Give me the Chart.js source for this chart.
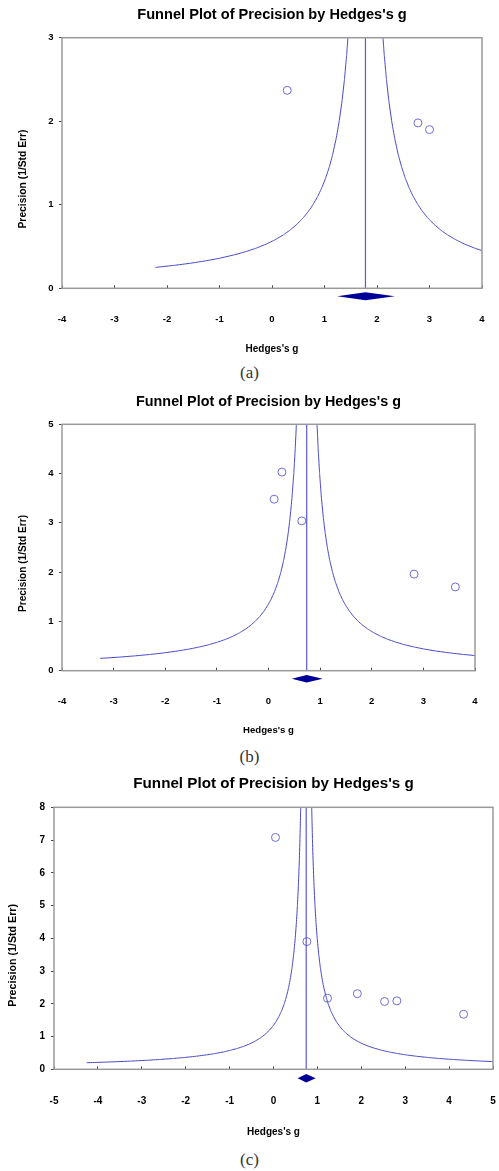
<!DOCTYPE html>
<html>
<head>
<meta charset="utf-8">
<script src="https://cdn.jsdelivr.net/npm/chart.js@4.4.1/dist/chart.umd.min.js"></script>
<style>
html,body{margin:0;padding:0;background:#fff;}
body{width:499px;height:1171px;position:relative;overflow:hidden;}
.panel{position:absolute;left:0;width:499px;}
.cap{position:absolute;left:0;width:499px;text-align:center;font-family:"Liberation Serif","Times New Roman",serif;font-size:17px;line-height:20px;color:#333;}
</style>
</head>
<body>
<div class="panel" style="top:0;height:362px"><canvas id="chartA"></canvas></div>
<div class="cap" style="top:363px">(a)</div>
<div class="panel" style="top:385px;height:362px"><canvas id="chartB"></canvas></div>
<div class="cap" style="top:747px">(b)</div>
<div class="panel" style="top:770px;height:380px"><canvas id="chartC"></canvas></div>
<div class="cap" style="top:1150px">(c)</div>
<script>
// funnel limits: summary +/- FUNNEL_Z / precision
const FUNNEL_Z = 1;
const FUNNEL_PRECISION = [0.2,0.225,0.25,0.275,0.3,0.33,0.36,0.4,0.44,0.48,0.53,0.58,0.64,0.7,0.77,0.85,0.93,1,1.1,1.2,1.32,1.45,1.6,1.8,2,2.25,2.5,2.8,3.1,3.5,4,4.5,5,5.6,6.3,7,8,9,10,12,15];

// (a)
const A_G = [0.29, 2.78, 3.00];
const A_PREC = [2.37, 1.98, 1.90];
const A_SUMMARY = [1.24, 1.78, 2.34]; // lower, estimate, upper
const A_X_RANGE = [-4, 4];
const A_Y_RANGE = [0, 3];
const A_FUNNEL_FLOOR = 0.25;

// (b)
const B_G = [0.26, 0.11, 0.645, 2.82, 3.62];
const B_PREC = [4.03, 3.48, 3.04, 1.96, 1.70];
const B_SUMMARY = [0.45, 0.74, 1.05];
const B_X_RANGE = [-4, 4];
const B_Y_RANGE = [0, 5];
const B_FUNNEL_FLOOR = 0.25;

// (c)
const C_G = [0.045, 0.76, 1.23, 1.91, 2.53, 2.81, 4.33];
const C_PREC = [7.08, 3.90, 2.17, 2.31, 2.07, 2.09, 1.68];
const C_SUMMARY = [0.55, 0.745, 0.96];
const C_X_RANGE = [-5, 5];
const C_Y_RANGE = [0, 8];
const C_FUNNEL_FLOOR = 0.2;

const TITLE = "Funnel Plot of Precision by Hedges's g";
const X_TITLE = "Hedges's g";
const Y_TITLE = "Precision (1/Std Err)";
const FONT = "'Liberation Sans', Arial, sans-serif";
const FUNNEL_COLOR = '#4646c4';
const MEAN_COLOR = '#5a5ad0';
const POINT_COLOR = '#6c6cd8';
const DIAMOND_COLOR = '#000099';

Chart.defaults.color = '#000';

function makePanel(id, d, L) {
  const mean = d.summary[1];
  const band = FUNNEL_PRECISION.filter(p => p >= d.floor);
  const left = band.map(p => ({x: mean - FUNNEL_Z / p, y: p}));
  const right = band.map(p => ({x: mean + FUNNEL_Z / p, y: p}));
  const pts = d.g.map((g, i) => ({x: g, y: d.prec[i]}));
  const lhT = L.titleSize * 1.2, lhX = L.xTitleSize * 1.2, lhTick = L.tickSize * 1.2;

  const extras = {
    id: 'funnelExtras',
    afterDatasetsDraw(chart) {
      const {ctx, chartArea: a, scales: {x}} = chart;
      ctx.save();
      // summary diamond under the axis
      const y0 = a.bottom + L.diamondDy;
      ctx.fillStyle = DIAMOND_COLOR;
      ctx.beginPath();
      ctx.moveTo(x.getPixelForValue(d.summary[0]), y0);
      ctx.lineTo(x.getPixelForValue(d.summary[1]), y0 - L.diamondH);
      ctx.lineTo(x.getPixelForValue(d.summary[2]), y0);
      ctx.lineTo(x.getPixelForValue(d.summary[1]), y0 + L.diamondH);
      ctx.closePath();
      ctx.fill();
      // frame
      ctx.strokeStyle = '#9a9a9a';
      ctx.lineWidth = 1.5;
      ctx.strokeRect(a.left, a.top, a.right - a.left, a.bottom - a.top);
      // y title (sits a bit lower than the plot centre)
      ctx.translate(L.yTitleX, (a.top + a.bottom) / 2 + L.yTitleDy);
      ctx.rotate(-Math.PI / 2);
      ctx.font = 'bold ' + L.yTitleSize + 'px ' + FONT;
      ctx.fillStyle = '#000';
      ctx.textAlign = 'center';
      ctx.textBaseline = 'middle';
      ctx.fillText(Y_TITLE, 0, 0);
      ctx.restore();
    }
  };

  // tiny tension so the curve is drawn point to point (no fast-path jogs)
  const curve = {showLine: true, borderColor: FUNNEL_COLOR, borderWidth: 1, pointRadius: 0, pointHoverRadius: 0, tension: 0.001};

  return new Chart(document.getElementById(id), {
    type: 'scatter',
    data: { datasets: [
      Object.assign({data: left}, curve),
      Object.assign({data: right}, curve),
      {data: [{x: mean, y: d.yRange[0]}, {x: mean, y: d.yRange[1]}], showLine: true, borderColor: MEAN_COLOR, borderWidth: 1.2, pointRadius: 0, pointHoverRadius: 0},
      {data: pts, pointRadius: 4, pointHoverRadius: 4, borderColor: POINT_COLOR, backgroundColor: 'rgba(0,0,0,0)', borderWidth: 1}
    ]},
    options: {
      responsive: true, maintainAspectRatio: false, animation: false,
      layout: { padding: {left: 0, top: 0, right: 499 - L.right, bottom: L.h - (L.xTitleY + lhX / 2)} },
      plugins: {
        legend: {display: false},
        tooltip: {enabled: false},
        title: {display: true, text: TITLE, fullSize: false, color: '#000',
          font: {family: FONT, size: L.titleSize, weight: 'bold'},
          padding: {top: L.titleY - lhT / 2, bottom: L.top - L.titleY - lhT / 2}}
      },
      scales: {
        x: {
          type: 'linear', min: d.xRange[0], max: d.xRange[1],
          afterFit: s => {
            s.height = L.xTitleY + lhX / 2 - L.bottom;
            // big label gap should not eat into the plot width
            s.paddingLeft = 4;
            s.paddingRight = 4;
          },
          ticks: {stepSize: 1, color: '#000', padding: L.xLabelY - L.bottom + 3 - lhTick / 2,
            font: {family: FONT, size: L.tickSize, weight: 'bold'}},
          grid: {display: true, drawOnChartArea: false, drawTicks: true, tickLength: -3, color: '#444'},
          border: {display: false},
          title: {display: true, text: X_TITLE, padding: 0, color: '#000',
            font: {family: FONT, size: L.xTitleSize, weight: 'bold'}}
        },
        y: {
          type: 'linear', min: d.yRange[0], max: d.yRange[1],
          afterFit: s => { s.width = L.left; },
          ticks: {stepSize: 1, color: '#000', padding: L.yTickPad,
            font: {family: FONT, size: L.tickSize, weight: 'bold'}},
          grid: {display: true, drawOnChartArea: false, drawTicks: true, tickLength: 3, color: '#444'},
          border: {display: false}
        }
      }
    },
    plugins: [extras]
  });
}

makePanel('chartA',
  {g: A_G, prec: A_PREC, summary: A_SUMMARY, xRange: A_X_RANGE, yRange: A_Y_RANGE, floor: A_FUNNEL_FLOOR},
  {h: 362, left: 62, right: 482, top: 37.7, bottom: 288.3, titleY: 15, titleSize: 14.6,
   xLabelY: 319.3, xTitleY: 349, xTitleSize: 10, tickSize: 9.5, yTickPad: 5.5,
   yTitleX: 22.7, yTitleDy: 16, yTitleSize: 10.3, diamondDy: 8, diamondH: 4});

makePanel('chartB',
  {g: B_G, prec: B_PREC, summary: B_SUMMARY, xRange: B_X_RANGE, yRange: B_Y_RANGE, floor: B_FUNNEL_FLOOR},
  {h: 362, left: 62, right: 475, top: 39.3, bottom: 285.7, titleY: 17.3, titleSize: 14.35,
   xLabelY: 316, xTitleY: 345, xTitleSize: 9.6, tickSize: 9.5, yTickPad: 5.5,
   yTitleX: 23, yTitleDy: 16, yTitleSize: 10.1, diamondDy: 8, diamondH: 3.7});

makePanel('chartC',
  {g: C_G, prec: C_PREC, summary: C_SUMMARY, xRange: C_X_RANGE, yRange: C_Y_RANGE, floor: C_FUNNEL_FLOOR},
  {h: 380, left: 54, right: 493, top: 37.3, bottom: 299.3, titleY: 13.7, titleSize: 15.2,
   xLabelY: 331.7, xTitleY: 362.7, xTitleSize: 10, tickSize: 10, yTickPad: 6,
   yTitleX: 13.3, yTitleDy: 17, yTitleSize: 10.7, diamondDy: 9, diamondH: 4.3});
</script>
</body>
</html>
